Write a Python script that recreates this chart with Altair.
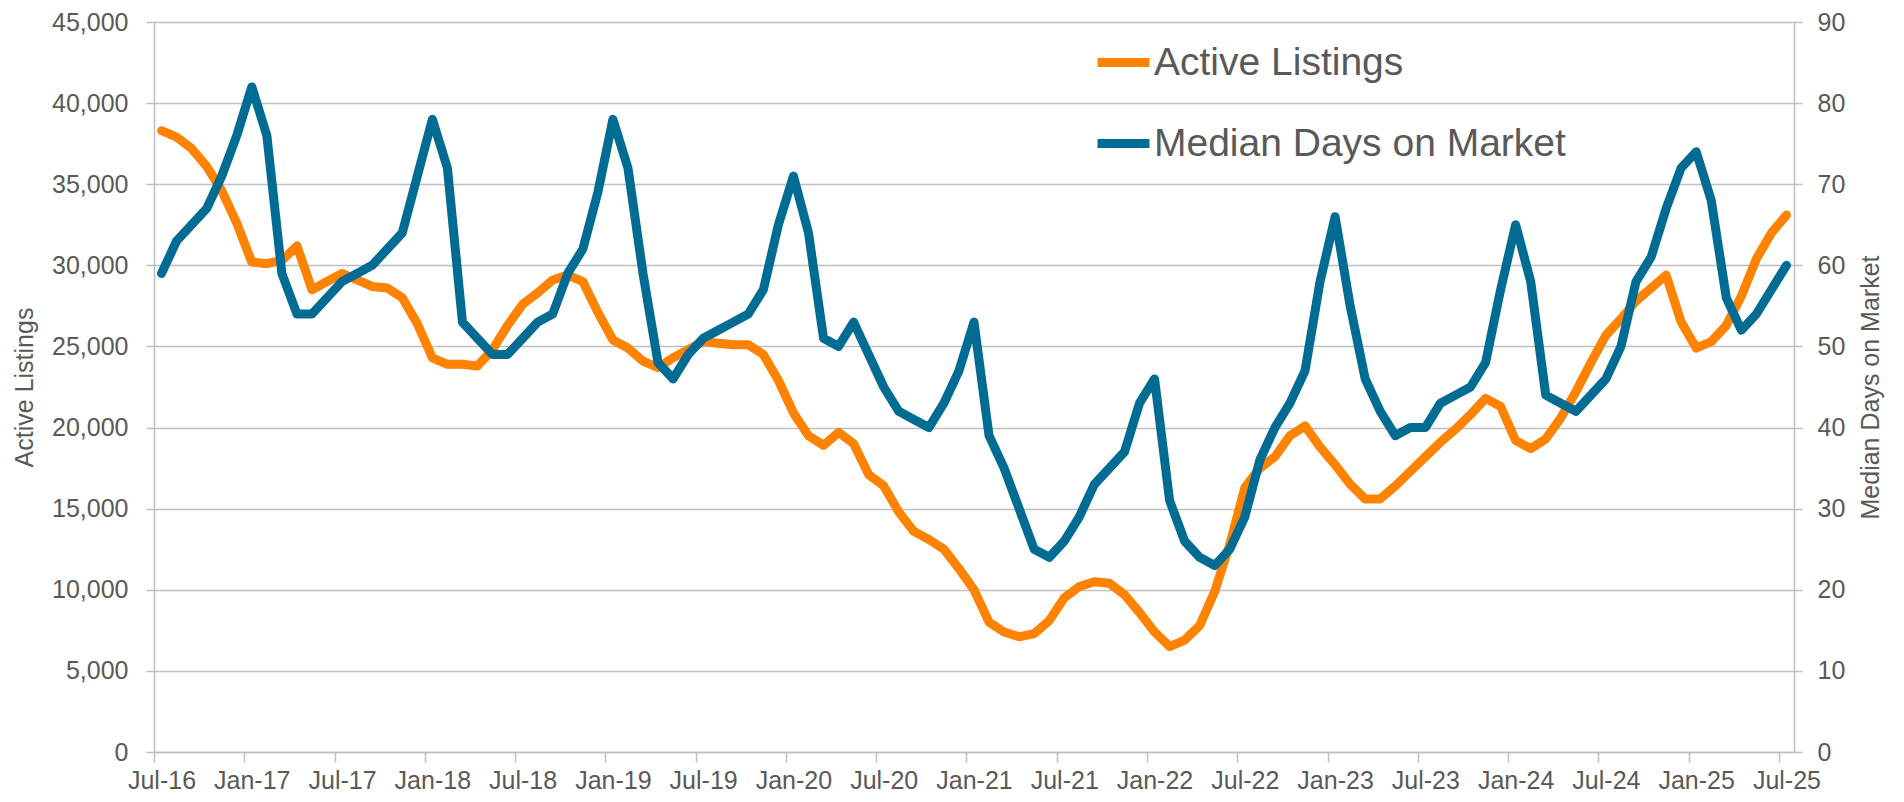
import json
import altair as alt
import pandas as pd

tick_labels = ["Jul-16", "Jan-17", "Jul-17", "Jan-18", "Jul-18", "Jan-19", "Jul-19",
               "Jan-20", "Jul-20", "Jan-21", "Jul-21", "Jan-22", "Jul-22", "Jan-23",
               "Jul-23", "Jan-24", "Jul-24", "Jan-25", "Jul-25"]

# Monthly, Jul-16 .. Jul-25
active_listings = [
    38300, 37900, 37200, 36100, 34600, 32600, 30200, 30100, 30300, 31200, 28500, 29000,
    29500, 29100, 28700, 28600, 28000, 26400, 24300, 23900, 23900, 23800, 24800, 26300,
    27600, 28300, 29100, 29400, 29000, 27100, 25400, 24900, 24100, 23700, 24300, 24800,
    25300, 25200, 25100, 25100, 24500, 22900, 20900, 19500, 18900, 19700, 19000, 17100,
    16400, 14800, 13600, 13100, 12500, 11300, 10000, 8000, 7400, 7100, 7300, 8100,
    9500, 10200, 10500, 10400, 9700, 8600, 7400, 6500, 6900, 7800, 9900, 12800,
    16300, 17500, 18200, 19500, 20100, 18800, 17700, 16500, 15600, 15600, 16400, 17300,
    18200, 19100, 19900, 20800, 21800, 21300, 19200, 18700, 19300, 20600, 22200, 24000,
    25700, 26700, 27800, 28600, 29400, 26500, 24900, 25300, 26300, 28100, 30400, 32000,
    33100,
]
median_days = [
    59, 63, 65, 67, 71, 76, 82, 76, 59, 54, 54, 56,
    58, 59, 60, 62, 64, 71, 78, 72, 53, 51, 49, 49,
    51, 53, 54, 59, 62, 69, 78, 72, 59, 48, 46, 49,
    51, 52, 53, 54, 57, 65, 71, 64, 51, 50, 53, 49,
    45, 42, 41, 40, 43, 47, 53, 39, 35, 30, 25, 24,
    26, 29, 33, 35, 37, 43, 46, 31, 26, 24, 23, 25,
    29, 36, 40, 43, 47, 58, 66, 55, 46, 42, 39, 40,
    40, 43, 44, 45, 48, 57, 65, 58, 44, 43, 42, 44,
    46, 50, 58, 61, 67, 72, 74, 68, 56, 52, 54, 57,
    60,
]

series_names = ["Active Listings", "Median Days on Market"]
series_colors = ["#FF8300", "#006C93"]

n = len(active_listings)
df = pd.DataFrame({
    "pos": [i + 0.5 for i in range(n)],
    "active": active_listings,
    "dom": median_days,
})

FONT = "Liberation Sans"
TXT = "#595959"
GRID = "#BFBFBF"

label_expr = json.dumps(tick_labels) + "[round(datum.value / 6)]"

x_enc = alt.X(
    "pos:Q",
    scale=alt.Scale(domain=[0, n], nice=False, zero=False),
    axis=alt.Axis(
        values=list(range(0, n, 6)),
        labelExpr=label_expr,
        title=None,
        grid=False,
        tickSize=10,
        labelPadding=6,
        labelOffset=7.5,
        labelFontSize=25,
        labelFlush=False,
        labelOverlap=False,
    ),
)

color_enc = alt.Color(
    "series:N",
    scale=alt.Scale(domain=series_names, range=series_colors),
    legend=alt.Legend(
        orient="none",
        legendX=939,
        legendY=10,
        title=None,
        labelFontSize=39,
        labelColor=TXT,
        labelFont=FONT,
        labelLimit=800,
        symbolType="stroke",
        symbolStrokeWidth=9,
        symbolSize=2700,
        rowPadding=30,
        labelOffset=0,
    ),
)

orange = (
    alt.Chart(df)
    .transform_calculate(series=f"'{series_names[0]}'")
    .mark_line(strokeWidth=9, strokeJoin="round", strokeCap="round")
    .encode(
        x=x_enc,
        y=alt.Y(
            "active:Q",
            scale=alt.Scale(domain=[0, 45000], nice=False),
            axis=alt.Axis(
                title="Active Listings",
                values=list(range(0, 45001, 5000)),
                format=",d",
                grid=True,
                tickSize=8,
                labelPadding=18,
                titlePadding=14,
            ),
        ),
        color=color_enc,
    )
)

blue = (
    alt.Chart(df)
    .transform_calculate(series=f"'{series_names[1]}'")
    .mark_line(strokeWidth=9, strokeJoin="round", strokeCap="round")
    .encode(
        x=x_enc,
        y=alt.Y(
            "dom:Q",
            scale=alt.Scale(domain=[0, 90], nice=False),
            axis=alt.Axis(
                title="Median Days on Market",
                orient="right",
                values=list(range(0, 91, 10)),
                grid=False,
                tickSize=8,
                labelPadding=15,
                titlePadding=39,
                titleAngle=270,
            ),
        ),
        color=color_enc,
    )
)

chart = (
    alt.layer(orange, blue)
    .resolve_scale(y="independent")
    .properties(
        width=1640,
        height=730,
        autosize=alt.AutoSizeParams(type="none"),
        padding={"left": 146, "top": 14, "right": 100, "bottom": 42},
    )
    .configure_view(stroke=None)
    .configure_axis(
        labelFont=FONT,
        titleFont=FONT,
        labelFontSize=25,
        titleFontSize=25,
        labelColor=TXT,
        titleColor=TXT,
        titleFontWeight="normal",
        domainColor=GRID,
        domainWidth=1.5,
        tickColor=GRID,
        tickWidth=1.5,
        gridColor=GRID,
        gridWidth=1.5,
    )
)

chart.save("out.html", embed_options={"renderer": "svg", "actions": False})
